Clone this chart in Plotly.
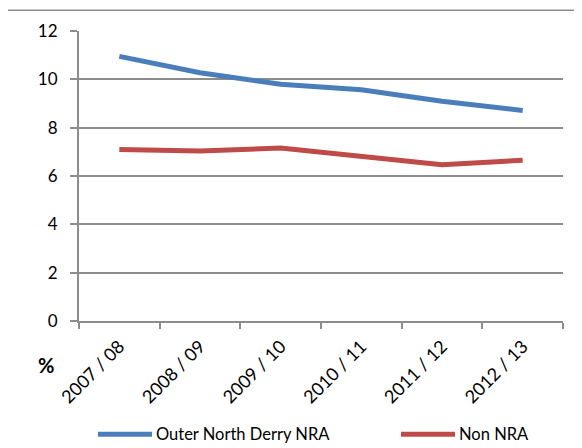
import plotly.graph_objects as go

categories = ["2007 / 08", "2008 / 09", "2009 / 10", "2010 / 11", "2011 / 12", "2012 / 13"]
outer_north_derry = [10.95, 10.27, 9.80, 9.57, 9.09, 8.71]
non_nra = [7.10, 7.03, 7.16, 6.83, 6.47, 6.65]
series_names = ["Outer North Derry NRA", "Non NRA"]
y_ticks = [0, 2, 4, 6, 8, 10, 12]

# The page body has an 8px margin, so the figure is shifted by OFF in the window.
OFF = 8
W, H = 582 - OFF, 448 - OFF
L, R, T, B = 79 - OFF, 19, 29 - OFF, 127
pw, ph = W - L - R, H - T - B

def px_x(p):
    return (p - OFF - L) / pw

def px_y(p):
    return (H - B - (p - OFF)) / ph

FONT = "Lato, Carlito, Calibri, sans-serif"
blue = "#4A7EBB"
red = "#BE4B48"
grid = "#8C8C8C"

fig = go.Figure()
fig.add_trace(go.Scatter(x=categories, y=outer_north_derry, mode="lines", name=series_names[0],
                         line=dict(color=blue, width=5)))
fig.add_trace(go.Scatter(x=categories, y=non_nra, mode="lines", name=series_names[1],
                         line=dict(color=red, width=5)))

shapes = [
    dict(type="rect", xref="paper", yref="paper", x0=px_x(6), x1=px_x(620), y0=px_y(480), y1=px_y(8),
         line=dict(color="#8C8C8C", width=1.5), fillcolor="rgba(0,0,0,0)", layer="below"),
    dict(type="line", xref="paper", yref="paper", x0=px_x(98), x1=px_x(152), y0=px_y(435), y1=px_y(435),
         line=dict(color=blue, width=5)),
    dict(type="line", xref="paper", yref="paper", x0=px_x(401), x1=px_x(455), y0=px_y(435), y1=px_y(435),
         line=dict(color=red, width=5)),
]

annotations = [
    dict(text="<b>%</b>", xref="paper", yref="paper", x=px_x(46), y=px_y(365), showarrow=False,
         font=dict(family=FONT, size=20, color="black"), xanchor="center", yanchor="middle"),
    dict(text=series_names[0], xref="paper", yref="paper", x=px_x(154), y=px_y(435), showarrow=False,
         font=dict(family=FONT, size=16.5, color="black"), xanchor="left", yanchor="middle"),
    dict(text=series_names[1], xref="paper", yref="paper", x=px_x(457), y=px_y(435), showarrow=False,
         font=dict(family=FONT, size=16.5, color="black"), xanchor="left", yanchor="middle"),
]

fig.update_layout(
    width=W, height=H,
    margin=dict(l=L, r=R, t=T, b=B, pad=0),
    paper_bgcolor="white", plot_bgcolor="white",
    showlegend=False,
    font=dict(family=FONT, color="black"),
    shapes=shapes,
    annotations=annotations,
    xaxis=dict(type="category", range=[-0.5, 5.5], showgrid=False, showline=True, linecolor=grid,
               linewidth=2, ticks="outside", tickson="boundaries", ticklen=6, tickcolor=grid,
               tickwidth=2, tickangle=-45, tickfont=dict(family=FONT, size=18, color="black"),
               ticklabelstandoff=6, zeroline=False),
    yaxis=dict(range=[0, 12], tickvals=y_ticks, showgrid=True, gridcolor=grid, gridwidth=2,
               showline=True, linecolor=grid, linewidth=2, ticks="outside", ticklen=7,
               tickcolor=grid, tickwidth=2, tickfont=dict(family=FONT, size=17, color="black"),
               ticklabelstandoff=9, zeroline=False),
)

fig.write_html("out.html")
